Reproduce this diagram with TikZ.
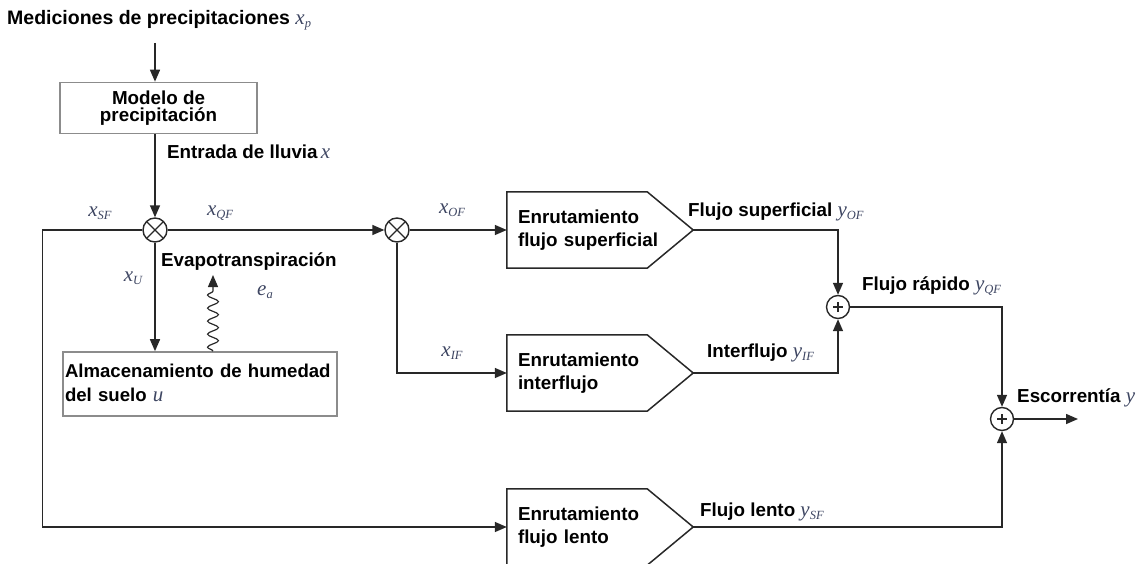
\documentclass[tikz,border=0pt]{standalone}
\usepackage{fontspec}
\setmainfont{Liberation Sans}
\newfontfamily\lblfont{Liberation Serif}
\usetikzlibrary{arrows.meta,decorations.pathmorphing}
\definecolor{linecol}{RGB}{40,40,40}
\definecolor{boxcol}{RGB}{140,140,140}
\definecolor{lblcol}{RGB}{62,70,98}
\newcommand{\vlabel}[2]{{\lblfont\mdseries\itshape\color{lblcol}\fontsize{21}{21}\selectfont #1\raisebox{-0.3ex}{\fontsize{12.5}{12.5}\selectfont #2}}}
\tikzset{
  txt/.style={font=\fontsize{18.8}{23}\selectfont\bfseries, inner sep=0pt, anchor=west},
  modbox/.style={draw=boxcol, line width=1.6pt, inner sep=0pt},
  routing/.style={minimum width=186pt, minimum height=76pt, inner sep=0pt, text width=164pt, align=left, font=\fontsize{18.8}{23}\selectfont\bfseries},
  mult/.style={circle, draw=linecol, line width=1.4pt, minimum size=24pt, inner sep=0pt,
    path picture={\draw[linecol,line width=1.2pt] (path picture bounding box.north west) -- (path picture bounding box.south east) (path picture bounding box.north east) -- (path picture bounding box.south west);}},
  adder/.style={circle, draw=linecol, line width=1.4pt, minimum size=23pt, inner sep=0pt,
    path picture={\draw[linecol,line width=1.1pt] ([xshift=-5pt]path picture bounding box.center) -- ([xshift=5pt]path picture bounding box.center) ([yshift=-5pt]path picture bounding box.center) -- ([yshift=5pt]path picture bounding box.center);}},
  wire/.style={draw=linecol, line width=1.5pt},
  flow/.style={wire, -{Triangle[length=12pt,width=10pt]}}
}
\begin{document}
\begin{tikzpicture}[x=1pt,y=-1pt]
  \useasboundingbox (0,0) rectangle (1145,564);
  % entrada y modelo
  \node[txt, font=\fontsize{19.5}{23}\selectfont\bfseries] (meas) at (7,20) {Mediciones de precipitaciones \vlabel{x}{p}};
  \coordinate (src) at (155,43);
  \node[modbox, minimum width=197pt, minimum height=51pt, align=center, font=\fontsize{18.8}{17}\selectfont\bfseries] (modelo) at (158.5,108) {Modelo de\\precipitación};
  \node[mult] (m1) at (155,230) {};
  \node[mult] (m2) at (397,230) {};
  \node[modbox, minimum width=274pt, minimum height=64pt, text width=270pt, align=left, font=\fontsize{18.6}{24}\selectfont\bfseries] (soil) at (200,384) {Almacenamiento de humedad\\del suelo \vlabel{u}{}};
  \coordinate (ev) at (213,275);
  % enrutamientos
  \node[routing] (rof) at (600,230) {Enrutamiento\\flujo superficial};
  \node[routing] (rif) at (600,373) {Enrutamiento\\interflujo};
  \node[routing] (rsf) at (600,527) {Enrutamiento\\flujo lento};
  \foreach \b in {rof,rif,rsf}
    \draw[wire] (\b.north west) -- ([xshift=-46pt]\b.north east) -- (\b.east) -- ([xshift=-46pt]\b.south east) -- (\b.south west) -- cycle;
  \node[adder] (a1) at (838,307) {};
  \node[adder] (a2) at (1002,419) {};
  \coordinate (out) at (1078,419);
  % conexiones
  \draw[flow] (src) -- (src |- modelo.north);
  \draw[flow] (modelo.south -| m1) -- (m1);
  \draw[flow] (m1) -- (m2);
  \draw[flow] (m1) -- (m1 |- soil.north);
  \draw[flow] (m1.west) -- ++(-100,0) |- (rsf.west);
  \draw[flow] (m2) -- (rof);
  \draw[flow] (m2) |- (rif.west);
  \draw[flow] (rof.east) -| (a1);
  \draw[flow] (rif.east) -| (a1);
  \draw[flow] (a1) -| (a2);
  \draw[flow] (rsf.east) -| (a2);
  \draw[flow] (a2) -- (out);
  \draw[wire, line width=1.2pt, decorate, decoration={snake, amplitude=5.5pt, segment length=13pt, post length=13pt}, -{Triangle[length=12pt,width=10pt]}] (soil.north -| ev) -- (ev);
  % etiquetas
  \node[txt] (lluvia) at (167,153) {Entrada de lluvia\,\vlabel{x}{}};
  \node (lsf) at (100,213) {\vlabel{x}{SF}};
  \node (lqf) at (220,213) {\vlabel{x}{QF}};
  \node (lu) at (133,278) {\vlabel{x}{U}};
  \node[txt] (levap) at (161,262) {Evapotranspiración};
  \node (lea) at (265,292) {\vlabel{e}{a}};
  \node (lof) at (452,210) {\vlabel{x}{OF}};
  \node (lif) at (452,353) {\vlabel{x}{IF}};
  \node[txt] (lyof) at (688,212) {Flujo superficial \vlabel{y}{OF}};
  \node[txt] (lyif) at (707,353) {Interflujo \vlabel{y}{IF}};
  \node[txt] (lyqf) at (862,286) {Flujo rápido \vlabel{y}{QF}};
  \node[txt] (lysf) at (700,512) {Flujo lento \vlabel{y}{SF}};
  \node[txt] (ly) at (1017,398) {Escorrentía \vlabel{y}{}};
\end{tikzpicture}
\end{document}
